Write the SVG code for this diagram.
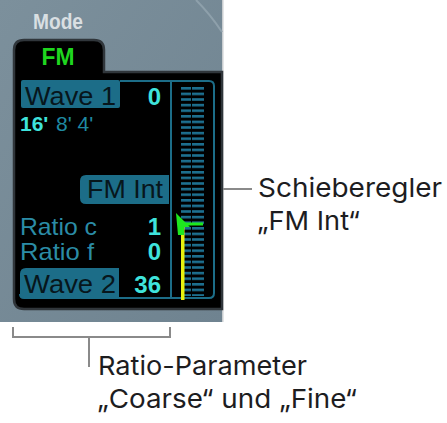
<svg xmlns="http://www.w3.org/2000/svg" width="447" height="423" viewBox="0 0 447 423">
<defs>
<style>
.lcd{font-family:"Liberation Sans","DejaVu Sans",sans-serif;}
.btn{fill:#1c6d88;}
.btnt{fill:#07161c;font-size:26px;}
.cy{fill:#3fe3dc;font-size:24px;font-weight:bold;}
.dim{fill:#2b8ca6;font-size:24px;}
.call{font-family:"Inter","Liberation Sans",sans-serif;font-size:26px;fill:#1d1d1f;}
.ln{stroke:#8a8a8a;stroke-width:2;fill:none;}
</style>
<linearGradient id="bg" x1="0" y1="0" x2="1" y2="1">
<stop offset="0" stop-color="#7c909c"/>
<stop offset="1" stop-color="#6f8390"/>
</linearGradient>
<pattern id="bars" x="0" y="87" width="24" height="5.6" patternUnits="userSpaceOnUse">
<rect x="0" y="0" width="23" height="2.6" fill="#1d7090"/>
</pattern>
</defs>
<g id="panel">
<rect x="0" y="0" width="223" height="322" fill="url(#bg)"/>
<rect x="222" y="0" width="1.5" height="322" fill="#c9cdd0"/>
<path d="M196,0 Q210,14 222,32" stroke="#8ea0ab" stroke-width="2" fill="none"/>
<text x="58" y="29" text-anchor="middle" font-family="Liberation Sans Narrow,Liberation Sans,sans-serif" font-weight="bold" font-size="22" fill="#d9dfe2" textLength="50" lengthAdjust="spacingAndGlyphs">Mode</text>
<path d="M14,299 V50 Q14,40 24,40 H94 Q104,40 104,50 V72 H222 V309 H24 Q14,309 14,299 Z" fill="#000" stroke="#30363b" stroke-width="2.5"/>
<text x="58" y="65" text-anchor="middle" font-family="Liberation Sans,sans-serif" font-weight="bold" font-size="23" fill="#1fd61f" textLength="33" lengthAdjust="spacingAndGlyphs">FM</text>
</g>
<g id="lcd" class="lcd">
<path d="M120,81 H209 Q214,81 214,86 V293 Q214,298 209,298 H24 Q20,298 20,294" stroke="#1c6d88" stroke-width="2" fill="none"/>
<line x1="171" y1="81" x2="171" y2="298" stroke="#1c6d88" stroke-width="2"/>
<rect class="btn" x="21" y="80" width="99" height="28" rx="2"/>
<text class="btnt" x="25" y="105" textLength="91" lengthAdjust="spacingAndGlyphs">Wave 1</text>
<text class="cy" x="161" y="105" text-anchor="end">0</text>
<text x="20" y="131" font-size="21" font-weight="bold" fill="#3fe3dc">16'</text>
<text x="56" y="131" font-size="21" fill="#1f8aa3">8' 4'</text>
<path class="btn" d="M86,175 H169 V204 H86 Q80,204 80,198 V181 Q80,175 86,175 Z"/>
<text class="btnt" x="87" y="198" textLength="76" lengthAdjust="spacingAndGlyphs">FM Int</text>
<text class="dim" x="20" y="235" textLength="77" lengthAdjust="spacingAndGlyphs">Ratio c</text>
<text class="cy" x="161" y="235" text-anchor="end">1</text>
<text class="dim" x="20" y="260" textLength="74" lengthAdjust="spacingAndGlyphs">Ratio f</text>
<text class="cy" x="161" y="260" text-anchor="end">0</text>
<path class="btn" d="M26,268 H119 V298 H24 Q20,298 20,294 V274 Q20,268 26,268 Z"/>
<text class="btnt" x="24" y="293" textLength="92" lengthAdjust="spacingAndGlyphs">Wave 2</text>
<text class="cy" x="161" y="293" text-anchor="end">36</text>
</g>
<g id="slider">
<rect x="181" y="87" width="23" height="209" fill="url(#bars)"/>
<rect x="181" y="226" width="3.5" height="74" fill="#e8f20c"/>
<line x1="182" y1="224" x2="203" y2="224" stroke="#1ee81e" stroke-width="3"/>
<polygon points="176,213 190,227 184,227 184,235 178,235" fill="#1ee81e"/>
</g>
<g id="connectors">
<line class="ln" x1="223" y1="189" x2="252" y2="189"/>
<path class="ln" d="M13,327 V337 H170 V327"/>
<line class="ln" x1="89" y1="337" x2="89" y2="367"/>
</g>
<g id="label-slider">
<text class="call" x="258" y="197" textLength="184" lengthAdjust="spacingAndGlyphs">Schieberegler</text>
<text class="call" x="257" y="230" textLength="103" lengthAdjust="spacingAndGlyphs">„FM Int“</text>
</g>
<g id="label-ratio">
<text class="call" x="98" y="375" textLength="209" lengthAdjust="spacingAndGlyphs">Ratio-Parameter</text>
<text class="call" x="97" y="408" textLength="260" lengthAdjust="spacingAndGlyphs">„Coarse“ und „Fine“</text>
</g>
</svg>
